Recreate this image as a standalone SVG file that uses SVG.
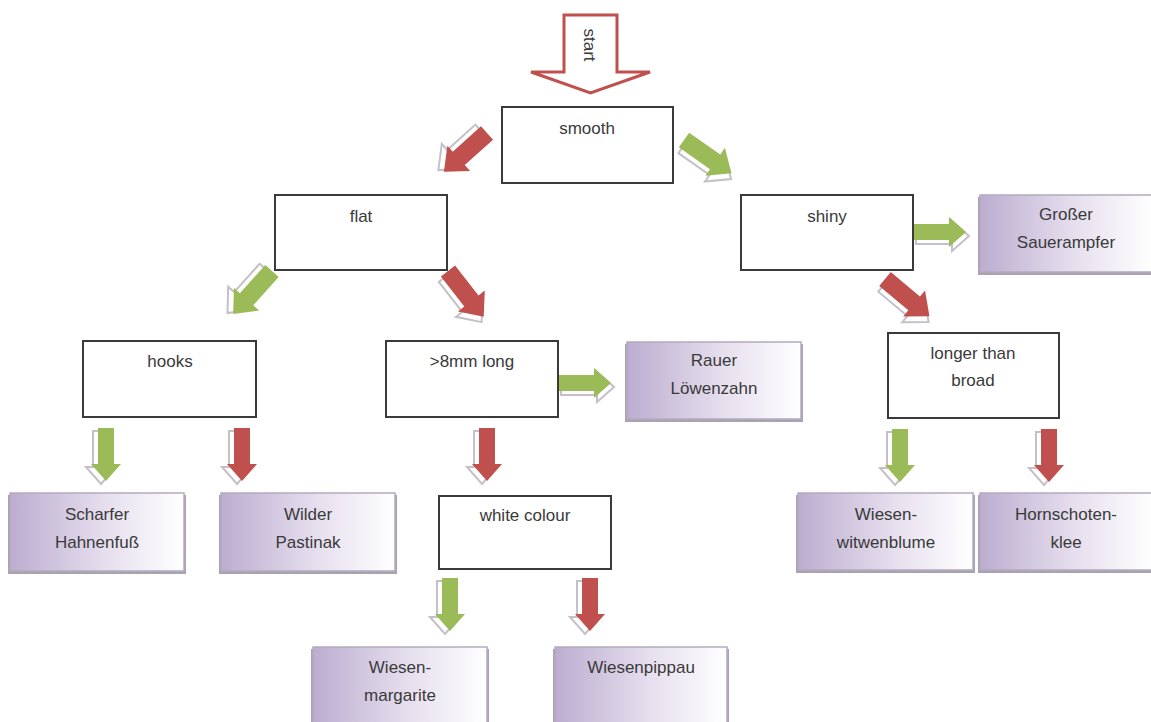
<svg xmlns="http://www.w3.org/2000/svg" width="1151" height="722" viewBox="0 0 1151 722">
<defs>
<linearGradient id="leafGrad" x1="0" y1="0" x2="1" y2="0">
<stop offset="0" stop-color="#bcadd0"/>
<stop offset="0.55" stop-color="#e6dfee"/>
<stop offset="1" stop-color="#ffffff"/>
</linearGradient>
<path id="arr" d="M -8,0 H 8 V 36 H 15 L 0,53 L -15,36 H -8 Z"/>
<path id="arrD" d="M -9,0 H 9 V 38 H 17 L 0,58 L -17,38 H -9 Z"/>
</defs>
<style>
.q{fill:#ffffff;stroke:#3a3a3a;stroke-width:2}
.leaf{fill:url(#leafGrad);stroke:#b4aabf;stroke-width:1.5}
.lsh{fill:#a9a3b0}
.t{font-family:"Liberation Sans","DejaVu Sans",sans-serif;font-size:17px;fill:#3a3a3a;text-anchor:middle}
.red{fill:#c0504d}
.grn{fill:#9bbb59}
.sh{fill:#ffffff;stroke:#c4c0c8;stroke-width:2}
</style>
<rect width="1151" height="722" fill="#ffffff"/>

<g id="connectors">
<g id="start-arrow">
<path d="M564,15 H617 V72 H650 L590.5,93 L531,72 H564 Z" fill="#ffffff" stroke="#c0504d" stroke-width="3"/>
<text class="t" transform="translate(584,45) rotate(90)">start</text>
</g>
<!-- smooth -> flat -->
<g transform="translate(487,133) rotate(48)"><use href="#arrD" class="sh" transform="translate(-5,3)"/><use href="#arrD" class="red"/></g>
<!-- smooth -> shiny -->
<g transform="translate(684,140) rotate(-55)"><use href="#arrD" class="sh" transform="translate(-5,3)"/><use href="#arrD" class="grn"/></g>
<!-- flat -> hooks -->
<g transform="translate(272,271) rotate(42)"><use href="#arrD" class="sh" transform="translate(-5,3)"/><use href="#arrD" class="grn"/></g>
<!-- flat -> >8mm -->
<g transform="translate(448,271) rotate(-38)"><use href="#arrD" class="sh" transform="translate(-5,3)"/><use href="#arrD" class="red"/></g>
<!-- shiny -> longer -->
<g transform="translate(885,279) rotate(-50)"><use href="#arrD" class="sh" transform="translate(-5,3)"/><use href="#arrD" class="red"/></g>
<!-- shiny -> Großer -->
<g transform="translate(913,232) rotate(-90)"><use href="#arr" class="sh" transform="translate(-4,3)"/><use href="#arr" class="grn"/></g>
<!-- >8mm -> Rauer -->
<g transform="translate(558,383) rotate(-90)"><use href="#arr" class="sh" transform="translate(-4,3)"/><use href="#arr" class="grn"/></g>
<!-- hooks -> Scharfer -->
<g transform="translate(106,428)"><use href="#arr" class="sh" transform="translate(-5,3)"/><use href="#arr" class="grn"/></g>
<!-- hooks -> Wilder -->
<g transform="translate(242,428)"><use href="#arr" class="sh" transform="translate(-5,3)"/><use href="#arr" class="red"/></g>
<!-- >8mm -> white colour -->
<g transform="translate(487,428)"><use href="#arr" class="sh" transform="translate(-5,3)"/><use href="#arr" class="red"/></g>
<!-- white colour -> Wiesen-margarite -->
<g transform="translate(450,578)"><use href="#arr" class="sh" transform="translate(-5,3)"/><use href="#arr" class="grn"/></g>
<!-- white colour -> Wiesenpippau -->
<g transform="translate(590,578)"><use href="#arr" class="sh" transform="translate(-5,3)"/><use href="#arr" class="red"/></g>
<!-- longer -> Wiesen-witwenblume -->
<g transform="translate(900,429)"><use href="#arr" class="sh" transform="translate(-5,3)"/><use href="#arr" class="grn"/></g>
<!-- longer -> Hornschotenklee -->
<g transform="translate(1049,429)"><use href="#arr" class="sh" transform="translate(-5,3)"/><use href="#arr" class="red"/></g>
</g>

<g id="smooth"><rect class="q" x="502" y="107" width="171" height="76"/><text class="t" x="587" y="134">smooth</text></g>
<g id="flat"><rect class="q" x="275" y="195" width="172" height="75"/><text class="t" x="361" y="222">flat</text></g>
<g id="shiny"><rect class="q" x="741" y="195" width="172" height="75"/><text class="t" x="827" y="222">shiny</text></g>
<g id="hooks"><rect class="q" x="83" y="341" width="173" height="76"/><text class="t" x="170" y="367">hooks</text></g>
<g id="mm8"><rect class="q" x="386" y="341" width="172" height="76"/><text class="t" x="472" y="367">&gt;8mm long</text></g>
<g id="longer"><rect class="q" x="888" y="333" width="171" height="85"/><text class="t" x="973" y="359">longer than</text><text class="t" x="973" y="386">broad</text></g>
<g id="white"><rect class="q" x="439" y="496" width="172" height="73"/><text class="t" x="525" y="521">white colour</text></g>

<g id="sauerampfer"><rect class="lsh" x="978" y="197" width="175" height="78"/><rect class="leaf" x="980" y="195" width="172" height="77"/><text class="t" x="1066" y="220">Großer</text><text class="t" x="1066" y="248">Sauerampfer</text></g>
<g id="loewenzahn"><rect class="lsh" x="625" y="344" width="178" height="78"/><rect class="leaf" x="627" y="342" width="174" height="77"/><text class="t" x="714" y="366">Rauer</text><text class="t" x="714" y="394">Löwenzahn</text></g>
<g id="hahnenfuss"><rect class="lsh" x="8" y="495" width="178" height="79"/><rect class="leaf" x="10" y="493" width="174" height="78"/><text class="t" x="97" y="520">Scharfer</text><text class="t" x="97" y="548">Hahnenfuß</text></g>
<g id="pastinak"><rect class="lsh" x="219" y="495" width="178" height="79"/><rect class="leaf" x="221" y="493" width="174" height="78"/><text class="t" x="308" y="520">Wilder</text><text class="t" x="308" y="548">Pastinak</text></g>
<g id="witwenblume"><rect class="lsh" x="796" y="495" width="179" height="78"/><rect class="leaf" x="798" y="493" width="175" height="77"/><text class="t" x="886" y="520">Wiesen-</text><text class="t" x="886" y="548">witwenblume</text></g>
<g id="hornschotenklee"><rect class="lsh" x="978" y="495" width="175" height="78"/><rect class="leaf" x="980" y="493" width="172" height="77"/><text class="t" x="1066" y="520">Hornschoten-</text><text class="t" x="1066" y="548">klee</text></g>
<g id="margarite"><rect class="lsh" x="311" y="649" width="178" height="76"/><rect class="leaf" x="313" y="647" width="174" height="76"/><text class="t" x="400" y="673">Wiesen-</text><text class="t" x="400" y="701">margarite</text></g>
<g id="pippau"><rect class="lsh" x="553" y="649" width="176" height="76"/><rect class="leaf" x="555" y="647" width="172" height="76"/><text class="t" x="641" y="673">Wiesenpippau</text></g>
</svg>
